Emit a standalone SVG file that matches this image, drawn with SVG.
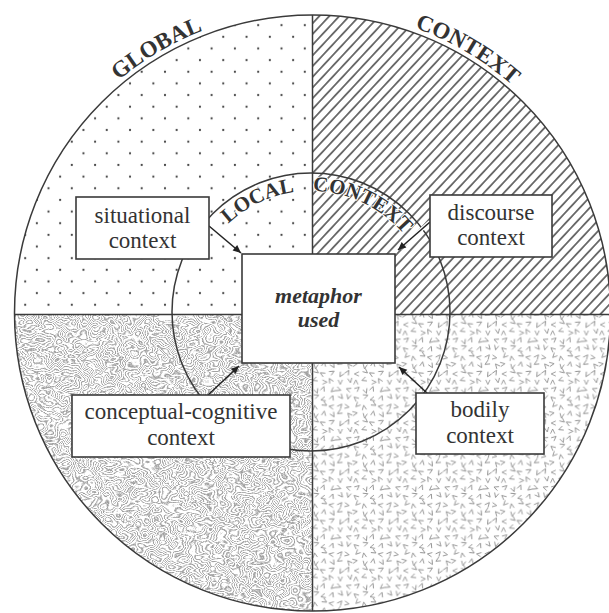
<svg xmlns="http://www.w3.org/2000/svg" xmlns:xlink="http://www.w3.org/1999/xlink" width="609" height="613" viewBox="0 0 609 613">
<style>
.ring{fill:none;stroke:#3a3a3a;stroke-width:1.5}
.div{stroke:#3a3a3a;stroke-width:1.5}
.box{fill:#fff;stroke:#3a3a3a;stroke-width:1.6}
.lbl{font-family:"Liberation Serif","Times New Roman",serif;font-size:23px;fill:#333;text-anchor:middle}
.main{font-family:"Liberation Serif","Times New Roman",serif;font-size:22px;font-weight:bold;font-style:italic;fill:#333;text-anchor:middle}
.outer{font-family:"Liberation Serif","Times New Roman",serif;font-size:23px;font-weight:bold;fill:#333}
.inner{font-family:"Liberation Serif","Times New Roman",serif;font-size:21px;font-weight:bold;fill:#333;stroke:#fff;stroke-width:2px;paint-order:stroke;stroke-linejoin:round}
.arr{fill:none;stroke:#222;stroke-width:1.5;marker-end:url(#ah)}
.v{fill:none;stroke:#8a8a8a;stroke-width:1}
</style>
<defs>
<marker id="ah" viewBox="0 0 10 10" refX="10" refY="5" markerWidth="11" markerHeight="8" markerUnits="userSpaceOnUse" orient="auto">
<path d="M0,0.5 L10,5 L0,9.5 z" fill="#222"/>
</marker>
<clipPath id="circ"><circle cx="312.5" cy="313" r="298"/></clipPath>
<pattern id="dots" patternUnits="userSpaceOnUse" x="165" y="165" width="23.3" height="23.3">
<circle cx="0" cy="0" r="1.1" fill="#444"/><circle cx="23.3" cy="0" r="1.1" fill="#444"/><circle cx="0" cy="23.3" r="1.1" fill="#444"/><circle cx="23.3" cy="23.3" r="1.1" fill="#444"/>
<circle cx="11.65" cy="11.65" r="1.1" fill="#444"/>
</pattern>
<pattern id="hatch" patternUnits="userSpaceOnUse" width="7.3" height="7.3" patternTransform="rotate(-47)">
<line x1="-1" y1="3.65" x2="8.3" y2="3.65" stroke="#222" stroke-width="1.25"/>
</pattern>
<path id="v" d="M-2.6,-2.8 L0,2.8 L2.6,-2.8"/>
<pattern id="vees" patternUnits="userSpaceOnUse" width="60" height="60" patternTransform="scale(0.82)">
<g class="v">
<use xlink:href="#v" transform="translate(5,4) rotate(15)"/><use xlink:href="#v" transform="translate(14,6) rotate(130)"/><use xlink:href="#v" transform="translate(26,3) rotate(250)"/><use xlink:href="#v" transform="translate(34,7) rotate(75)"/><use xlink:href="#v" transform="translate(45,5) rotate(200)"/><use xlink:href="#v" transform="translate(56,4) rotate(320)"/>
<use xlink:href="#v" transform="translate(3,16) rotate(280)"/><use xlink:href="#v" transform="translate(16,14) rotate(45)"/><use xlink:href="#v" transform="translate(24,17) rotate(170)"/><use xlink:href="#v" transform="translate(36,13) rotate(300)"/><use xlink:href="#v" transform="translate(44,16) rotate(100)"/><use xlink:href="#v" transform="translate(55,15) rotate(220)"/>
<use xlink:href="#v" transform="translate(6,26) rotate(140)"/><use xlink:href="#v" transform="translate(13,24) rotate(260)"/><use xlink:href="#v" transform="translate(25,27) rotate(10)"/><use xlink:href="#v" transform="translate(35,24) rotate(190)"/><use xlink:href="#v" transform="translate(46,26) rotate(330)"/><use xlink:href="#v" transform="translate(54,23) rotate(60)"/>
<use xlink:href="#v" transform="translate(4,34) rotate(210)"/><use xlink:href="#v" transform="translate(15,36) rotate(90)"/><use xlink:href="#v" transform="translate(26,33) rotate(310)"/><use xlink:href="#v" transform="translate(33,36) rotate(120)"/><use xlink:href="#v" transform="translate(45,34) rotate(240)"/><use xlink:href="#v" transform="translate(56,37) rotate(30)"/>
<use xlink:href="#v" transform="translate(7,44) rotate(350)"/><use xlink:href="#v" transform="translate(14,46) rotate(180)"/><use xlink:href="#v" transform="translate(24,43) rotate(70)"/><use xlink:href="#v" transform="translate(36,46) rotate(270)"/><use xlink:href="#v" transform="translate(43,44) rotate(150)"/><use xlink:href="#v" transform="translate(55,46) rotate(0)"/>
<use xlink:href="#v" transform="translate(5,55) rotate(110)"/><use xlink:href="#v" transform="translate(16,54) rotate(230)"/><use xlink:href="#v" transform="translate(26,57) rotate(340)"/><use xlink:href="#v" transform="translate(34,54) rotate(200)"/><use xlink:href="#v" transform="translate(46,56) rotate(50)"/><use xlink:href="#v" transform="translate(53,55) rotate(290)"/>
</g>
</pattern>
<filter id="topo" filterUnits="userSpaceOnUse" x="0" y="314" width="313" height="299" color-interpolation-filters="sRGB">
<feTurbulence type="fractalNoise" baseFrequency="0.04 0.055" numOctaves="2" seed="11" result="n"/>
<feColorMatrix in="n" type="matrix" values="1 0 0 0 0  1 0 0 0 0  1 0 0 0 0  0 0 0 0 1" result="g"/>
<feComponentTransfer in="g">
<feFuncR type="table" tableValues="1 1 0.62 1 1 0.62 1 1 0.62 1 1 0.62 1 1 0.62 1 1 0.62 1 1 0.62 1 1 0.62 1 1 0.62 1 1 0.62 1 1 0.62 1 1 0.62 1 1 0.62 1 1 0.62 1 1 0.62 1 1 0.62 1 1 0.62 1 1 0.62 1 1 0.62 1 1 0.62 1"/>
<feFuncG type="table" tableValues="1 1 0.62 1 1 0.62 1 1 0.62 1 1 0.62 1 1 0.62 1 1 0.62 1 1 0.62 1 1 0.62 1 1 0.62 1 1 0.62 1 1 0.62 1 1 0.62 1 1 0.62 1 1 0.62 1 1 0.62 1 1 0.62 1 1 0.62 1 1 0.62 1 1 0.62 1 1 0.62 1"/>
<feFuncB type="table" tableValues="1 1 0.62 1 1 0.62 1 1 0.62 1 1 0.62 1 1 0.62 1 1 0.62 1 1 0.62 1 1 0.62 1 1 0.62 1 1 0.62 1 1 0.62 1 1 0.62 1 1 0.62 1 1 0.62 1 1 0.62 1 1 0.62 1 1 0.62 1 1 0.62 1 1 0.62 1 1 0.62 1"/>
</feComponentTransfer>
</filter>
<path id="pGlobal" d="M78.7,120.3 A303,303 0 0,1 257.3,15.1"/>
<path id="pContext" d="M367.7,15.1 A303,303 0 0,1 546.3,120.3"/>
<path id="pLocal" d="M217.6,235.1 A121,121 0 0,1 310.0,191.0"/>
<path id="pLContext" d="M312.0,191.0 A121,121 0 0,1 404.4,235.1"/>
</defs>
<rect width="609" height="613" fill="#fff"/>
<g id="global-context" clip-path="url(#circ)">
<rect x="0" y="0" width="312.5" height="314.5" fill="url(#dots)"/>
<rect x="312.5" y="0" width="297" height="314.5" fill="url(#hatch)"/>
<rect x="0" y="314.5" width="312.5" height="299" fill="#fff" filter="url(#topo)"/>
<rect x="312.5" y="314.5" width="297" height="299" fill="url(#vees)"/>
</g>
<circle class="ring" cx="312.5" cy="313" r="298"/>
<line class="div" x1="312.5" y1="15" x2="312.5" y2="611"/>
<line class="div" x1="14.5" y1="314.5" x2="610" y2="314.5"/>
<g id="local-context">
<circle class="ring" cx="311" cy="312" r="139"/>
</g>
<g id="ring-labels">
<text class="outer"><textPath xlink:href="#pGlobal" startOffset="50%" text-anchor="middle">GLOBAL</textPath></text>
<text class="outer"><textPath xlink:href="#pContext" startOffset="50%" text-anchor="middle">CONTEXT</textPath></text>
<text class="inner"><textPath xlink:href="#pLocal" startOffset="50%" text-anchor="middle">LOCAL</textPath></text>
<text class="inner"><textPath xlink:href="#pLContext" startOffset="50%" text-anchor="middle">CONTEXT</textPath></text>
</g>
<g id="connectors">
<path d="M430,222 L400,248" stroke="#fff" stroke-width="4" fill="none"/>
<path class="arr" d="M209,226 L241,253"/>
<path class="arr" d="M430,222 L398,250"/>
<path class="arr" d="M208,395 L239,366"/>
<path class="arr" d="M427,393 L399,367"/>
</g>
<g id="node-situational">
<rect class="box" x="76" y="197" width="133" height="62"/>
<text class="lbl" x="142.5" y="223">situational</text>
<text class="lbl" x="142.5" y="248">context</text>
</g>
<g id="node-discourse">
<rect class="box" x="430" y="195" width="122" height="62"/>
<text class="lbl" x="491" y="220">discourse</text>
<text class="lbl" x="491" y="245">context</text>
</g>
<g id="node-metaphor">
<rect class="box" x="242" y="254" width="153" height="109"/>
<text class="main" x="318.5" y="303">metaphor</text>
<text class="main" x="318.5" y="327">used</text>
</g>
<g id="node-conceptual">
<rect class="box" x="72" y="395" width="218" height="62"/>
<text class="lbl" x="181" y="419">conceptual-cognitive</text>
<text class="lbl" x="181" y="445">context</text>
</g>
<g id="node-bodily">
<rect class="box" x="416" y="393" width="128" height="61"/>
<text class="lbl" x="480" y="417">bodily</text>
<text class="lbl" x="480" y="443">context</text>
</g>
</svg>
